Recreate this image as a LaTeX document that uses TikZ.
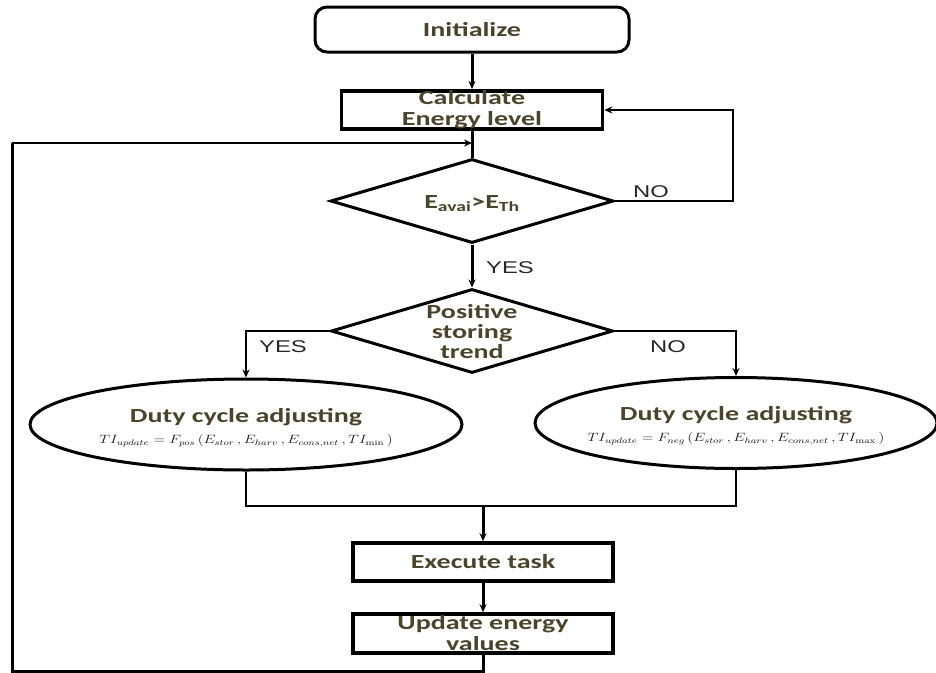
\documentclass[tikz,border=0pt]{standalone}
\usepackage{fontspec}
\usepackage{graphicx}
\usetikzlibrary{shapes.geometric,arrows.meta}
\newfontfamily\boxfont[FakeStretch=1.4]{Carlito}
\newfontfamily\tagfont[FakeStretch=1.4]{Liberation Sans}
\definecolor{txtolive}{RGB}{74,68,42}
\newcommand{\tiformula}[2]{\scalebox{1.27}[1]{\color{black!90}\fontsize{12}{13}\selectfont$TI_{update}=F_{#1}\,(E_{stor}\,,E_{harv}\,,E_{cons,net}\,,TI_{#2}\,)$}}
\begin{document}
\begin{tikzpicture}[x=1pt,y=-1pt,>={Stealth[length=8pt,width=7pt]}]
            \tikzstyle{box text}=[font=\boxfont\bfseries\fontsize{20}{21}\selectfont,text=txtolive,align=center]
            \tikzstyle{start box}=[draw,box text,line width=3pt,rounded corners=12pt,minimum width=314pt,minimum height=45pt]
            \tikzstyle{process box}=[draw,box text,line width=3.6pt,inner sep=0pt,minimum width=260pt,minimum height=38pt]
            \tikzstyle{decision}=[draw,diamond,line width=3pt,inner sep=0pt,minimum width=283pt,minimum height=84pt]
            \tikzstyle{adjust}=[draw,ellipse,line width=3pt,inner sep=0pt,minimum height=91pt]
            \tikzstyle{tag}=[font=\tagfont\fontsize{17}{19}\selectfont,text=black!85]
            \tikzstyle{flow}=[line width=3pt]
            \tikzstyle{link}=[line width=1.8pt]

            \useasboundingbox (0,0) rectangle (936,672);

            \node(init)[start box] at (472,29.5){Initialize};
            \node(calc)[process box,minimum width=261pt] at (472,110){Calculate\\Energy level};
            \node(check)[decision,label={[box text,yshift=-3pt]center:{E\textsubscript{avai}>E\textsubscript{Th}}}] at (472,201){};
            \node(trend)[decision,minimum width=282pt,label={[box text,font=\boxfont\bfseries\fontsize{20}{20}\selectfont,yshift=-1pt]center:{Positive\\storing\\trend}}] at (472,331){};
            \node(adjpos)[adjust,minimum width=432pt,label={[box text,yshift=-3pt]center:{Duty cycle adjusting\\\tiformula{pos}{\min}}}] at (246,424.5){};
            \node(adjneg)[adjust,minimum width=402pt,label={[box text,yshift=-3pt]center:{Duty cycle adjusting\\\tiformula{neg}{\max}}}] at (736,423){};
            \node(exec)[process box] at (483,562){Execute task};
            \node(upd)[process box,minimum height=39pt] at (483,633.5){Update energy\\values};

            \coordinate(back) at (733,201);
            \coordinate(join) at (483,506);
            \coordinate(corner) at (12,671);
            \coordinate(leftup) at (12,143);
            \coordinate(entry) at (472,143);

            \node(no1)[tag] at (651,192){NO};
            \node(yes1)[tag] at (510,268){YES};
            \node(yes2)[tag] at (283,347){YES};
            \node(no2)[tag] at (668,347){NO};

            \draw[flow,->](init)--(calc);
            \draw[flow](calc)--(check);
            \draw[link,->](check.east)--(back)|-(calc.east);
            \draw[flow,->](check)--(trend);
            \draw[link,->](trend.west)-|(adjpos.north);
            \draw[link,->](trend.east)-|(adjneg.north);
            \draw[link](adjpos.south)|-(join)-|(adjneg.south);
            \draw[flow,->](join)--(exec);
            \draw[flow,->](exec)--(upd);
            \draw[flow](upd)|-(corner)--(leftup);
            \draw[link,->](leftup)--(entry);
\end{tikzpicture}
\end{document}
